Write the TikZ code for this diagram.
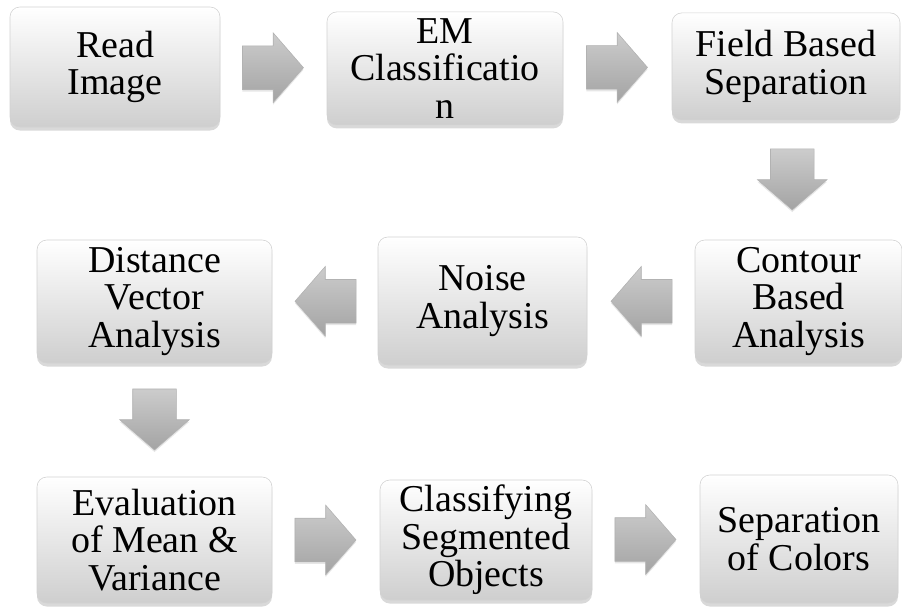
\documentclass[tikz,border=0pt]{standalone}
\usepackage{fontspec}
\setmainfont{Liberation Serif}
\usetikzlibrary{shapes.arrows,shadows,calc}

\begin{document}
\begin{tikzpicture}[
  stage/.style={rectangle, draw=gray!35, top color=white, bottom color=gray!38,
                rounded corners=7pt, minimum width=#1, align=center,
                font=\rmfamily\fontsize{27}{26.6}\selectfont, inner sep=0pt,
                drop shadow={opacity=0.3, shadow xshift=0pt, shadow yshift=-2.5pt}},
  stage/.default={5.8cm},
  flow/.style={single arrow, draw=gray!60, top color=gray!40, bottom color=gray!72,
               minimum height=1.525cm, minimum width=1.725cm,
               inner xsep=0pt, inner ysep=0.5375cm,
               single arrow head extend=0.325cm, single arrow tip angle=98,
               rotate=#1, xshift=-0.25cm,
               drop shadow={opacity=0.2, shadow xshift=0pt, shadow yshift=-1.5pt}},
  flow/.default={0}
]
  \useasboundingbox (0,0) rectangle (22.55,15.2);

  % first row
  \node[stage=5.25cm, minimum height=3.0cm] (read) at (2.875,13.525) {Read\\Image};
  \node[stage=5.9cm, minimum height=2.825cm] (em) at (11.125,13.49) {EM\\Classificatio\\n};
  \node[stage=5.7cm, minimum height=2.675cm] (field) at (19.65,13.54) {Field Based\\Separation};

  % second row
  \node[stage=5.875cm, minimum height=3.075cm] (dist) at (3.8625,7.6625) {Distance\\Vector\\Analysis};
  \node[stage=5.225cm, minimum height=3.2cm] (noise) at (12.0625,7.675) {Noise\\Analysis};
  \node[stage=5.175cm, minimum height=3.075cm] (contour) at (19.9625,7.6625) {Contour\\Based\\Analysis};

  % third row
  \node[stage=5.875cm, minimum height=3.15cm] (eval) at (3.8625,1.7) {Evaluation\\of Mean \&\\Variance};
  \node[stage=5.3cm, minimum height=3.0cm] (class) at (12.15,1.7) {Classifying\\Segmented\\Objects};
  \node[stage=4.95cm, minimum height=3.2cm] (sep) at (19.975,1.725) {Separation\\of Colors};

  % block arrows
  \node[flow] (a1) at ($(read.east)!0.5!(em.west)$) {};
  \node[flow] (a2) at ($(em.east)!0.5!(field.west)$) {};
  \node[flow=270] (a3) at ($(field.south)!0.5!(contour.north)$) {};
  \node[flow=180] (a4) at ($(contour.west)!0.5!(noise.east)$) {};
  \node[flow=180] (a5) at ($(noise.west)!0.5!(dist.east)$) {};
  \node[flow=270] (a6) at ($(dist.south)!0.5!(eval.north)$) {};
  \node[flow] (a7) at ($(eval.east)!0.5!(class.west)$) {};
  \node[flow] (a8) at ($(class.east)!0.5!(sep.west)$) {};
\end{tikzpicture}
\end{document}
